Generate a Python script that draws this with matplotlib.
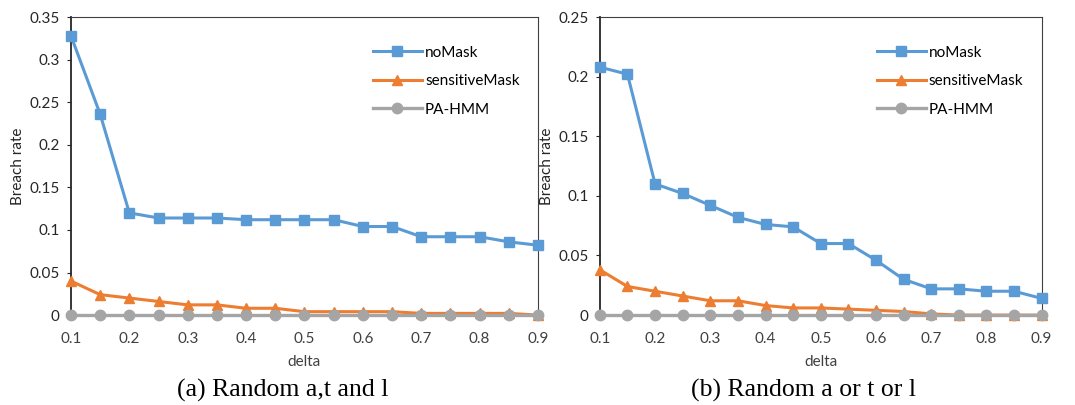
import matplotlib.pyplot as plt
from matplotlib.ticker import FuncFormatter

delta = [0.1, 0.15, 0.2, 0.25, 0.3, 0.35, 0.4, 0.45, 0.5,
         0.55, 0.6, 0.65, 0.7, 0.75, 0.8, 0.85, 0.9]

# (a) Random a,t and l
a_nomask = [0.328, 0.236, 0.120, 0.114, 0.114, 0.114, 0.112, 0.112, 0.112,
            0.112, 0.104, 0.104, 0.092, 0.092, 0.092, 0.086, 0.082]
a_sensitive = [0.040, 0.024, 0.020, 0.016, 0.012, 0.012, 0.008, 0.008, 0.004,
               0.004, 0.004, 0.004, 0.002, 0.002, 0.002, 0.002, 0.0]
a_pahmm = [0.0] * 17

# (b) Random a or t or l
b_nomask = [0.208, 0.202, 0.110, 0.102, 0.092, 0.082, 0.076, 0.074, 0.060,
            0.060, 0.046, 0.030, 0.022, 0.022, 0.020, 0.020, 0.014]
b_sensitive = [0.038, 0.024, 0.020, 0.016, 0.012, 0.012, 0.008, 0.006, 0.006,
               0.005, 0.004, 0.003, 0.001, 0.0, 0.0, 0.0, 0.0]
b_pahmm = [0.0] * 17

panels = [
    ("(a) Random a,t and l", a_nomask, a_sensitive, a_pahmm, 0.35, 0.05),
    ("(b) Random a or t or l", b_nomask, b_sensitive, b_pahmm, 0.25, 0.05),
]
boxes = [[0.066, 0.222, 0.4345, 0.736], [0.558, 0.222, 0.411, 0.736]]
caption_x = [0.263, 0.747]

plt.rcParams['font.family'] = ['Lato', 'DejaVu Sans']

fig = plt.figure(figsize=(10.75, 4.05), dpi=100)

blue = '#5B9BD5'
orange = '#ED7D31'
gray = '#A5A5A5'


def fmt(v, pos):
    s = ('%.2f' % v).rstrip('0').rstrip('.')
    return s


for (caption, nomask, sens, pahmm, ymax, ystep), box, cx in zip(panels, boxes, caption_x):
    ax = fig.add_axes(box)
    ax.plot(delta, nomask, color=blue, lw=2.2, marker='s', ms=7.5,
            label='noMask', clip_on=False, zorder=3)
    ax.plot(delta, sens, color=orange, lw=2.2, marker='^', ms=7.5,
            label='sensitiveMask', clip_on=False, zorder=3)
    ax.plot(delta, pahmm, color=gray, lw=2.4, marker='o', ms=7.5,
            label='PA-HMM', clip_on=False, zorder=4)
    ax.set_xlim(0.1, 0.9)
    ax.set_ylim(0, ymax)
    ax.set_xticks([0.1, 0.2, 0.3, 0.4, 0.5, 0.6, 0.7, 0.8, 0.9])
    n = int(round(ymax / ystep))
    ax.set_yticks([i * ystep for i in range(n + 1)])
    ax.xaxis.set_major_formatter(FuncFormatter(fmt))
    ax.yaxis.set_major_formatter(FuncFormatter(fmt))
    ax.tick_params(axis='x', length=0, pad=12, labelsize=11, colors='#404040')
    ax.tick_params(axis='y', length=3, width=0.8, pad=5, labelsize=11,
                   colors='#262626')
    ax.spines['left'].set_color('#262626')
    ax.spines['left'].set_linewidth(1.3)
    ax.spines['top'].set_color('#404040')
    ax.spines['right'].set_color('#404040')
    ax.spines['bottom'].set_visible(False)
    ax.set_xlabel('delta', fontsize=11, color='#404040', labelpad=7)
    ax.set_ylabel('Breach rate', fontsize=11, color='#262626', labelpad=3)
    ax.legend(loc='upper right', bbox_to_anchor=(0.99, 0.95), frameon=False,
              fontsize=11, handlelength=3.2, handletextpad=0.2,
              labelspacing=0.95)
    fig.text(cx, 0.035, caption, ha='center', va='center', fontsize=18.5,
             family='Liberation Serif', color='black')

fig.savefig('out.png', dpi=100)
